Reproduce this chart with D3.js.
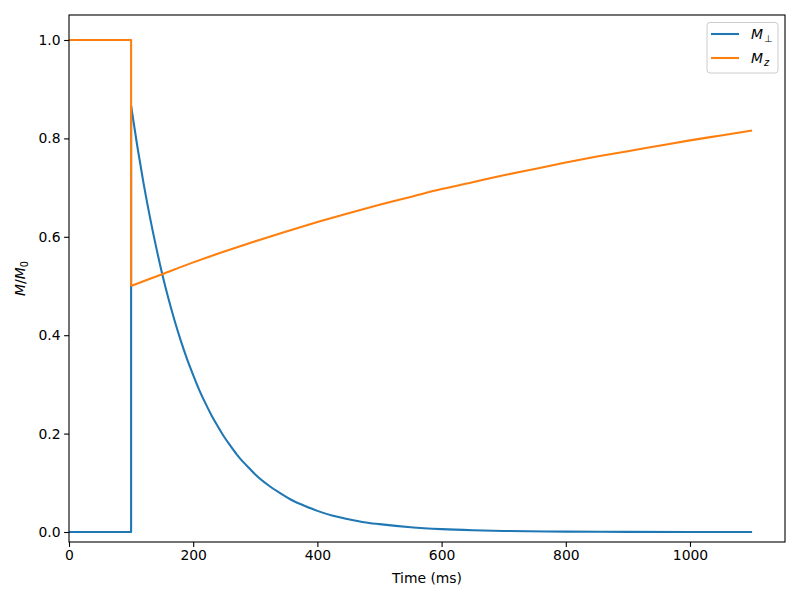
<!DOCTYPE html>
<html><head><meta charset="utf-8">
<script src="https://cdn.jsdelivr.net/npm/d3@7"></script>
<style>body{margin:0;background:#fff}svg text{font-family:"DejaVu Sans",sans-serif}</style>
</head><body><svg id="c" width="800" height="600"></svg>
<script>
const perpTime = [0,100,100,110,120,130,140,150,160,170,180,190,200,210,220,230,240,250,260,270,280,290,300,320,340,360,380,400,425,450,475,500,550,600,650,700,800,900,1000,1100];
const perpVals = [0,0,0.866,0.784,0.709,0.642,0.581,0.525,0.475,0.430,0.389,0.352,0.319,0.288,0.261,0.236,0.214,0.193,0.175,0.158,0.143,0.130,0.117,0.096,0.079,0.064,0.053,0.043,0.033,0.026,0.020,0.016,0.0096,0.0058,0.0035,0.0021,0.0008,0.0003,0.0001,0.0000];
const zTime = [0,100,100,150,200,250,300,350,400,450,500,550,600,650,700,750,800,850,900,950,1000,1050,1100];
const zVals = [1,1,0.5,0.524,0.548,0.570,0.591,0.611,0.630,0.648,0.665,0.681,0.697,0.711,0.725,0.738,0.751,0.763,0.774,0.785,0.796,0.806,0.816];
const xTicks = [0,200,400,600,800,1000];
const yTicks = [0.0,0.2,0.4,0.6,0.8,1.0];

const L=69,T=15,R=785,B=542;
const svg=d3.select("#c");
const x=d3.scaleLinear().domain([0,1153]).range([L,R]);
const y=d3.scaleLinear().domain([-0.0203,1.0508]).range([B,T]);
const fs=13.9;

const lin=d3.line().x(d=>x(d[0])).y(d=>y(d[1]));
const smooth=d3.line().x(d=>x(d[0])).y(d=>y(d[1])).curve(d3.curveMonotoneX);
const g=svg.append("g");
function drawSeries(ts,vs,color){
  const pts=ts.map((t,i)=>[t,vs[i]]);
  const j=2; // index of the point right after the pulse
  [[lin,pts.slice(0,j+1)],[smooth,pts.slice(j)]].forEach(([gen,d])=>{
    g.append("path").datum(d).attr("d",gen).attr("fill","none").attr("stroke",color)
     .attr("stroke-width",2.08).attr("stroke-linejoin","round");
  });
}
drawSeries(perpTime,perpVals,"#1f77b4");
drawSeries(zTime,zVals,"#ff7f0e");

const xa=svg.append("g").attr("transform",`translate(0,${B})`)
 .call(d3.axisBottom(x).tickValues(xTicks).tickFormat(d3.format("d")).tickSizeOuter(0).tickSize(4.9).tickPadding(3.5));
const ya=svg.append("g").attr("transform",`translate(${L},0)`)
 .call(d3.axisLeft(y).tickValues(yTicks).tickFormat(d3.format(".1f")).tickSizeOuter(0).tickSize(4.9).tickPadding(3.5));
[xa,ya].forEach(a=>{a.select(".domain").remove();a.selectAll("text").attr("font-size",fs).attr("fill","#000").attr("font-family","DejaVu Sans");a.selectAll("line").attr("stroke","#000").attr("stroke-width",1.1);});

svg.append("rect").attr("x",L).attr("y",T).attr("width",R-L).attr("height",B-T)
 .attr("fill","none").attr("stroke","#000").attr("stroke-width",1.1);

svg.append("text").attr("x",(L+R)/2).attr("y",583).attr("text-anchor","middle").attr("font-size",fs).text("Time (ms)");
const yl=svg.append("text").attr("transform",`translate(25,${(T+B)/2}) rotate(-90)`).attr("text-anchor","middle").attr("font-size",fs);
yl.append("tspan").attr("font-style","italic").text("M");
yl.append("tspan").text("/");
yl.append("tspan").attr("font-style","italic").text("M");
yl.append("tspan").attr("font-size",fs*0.7).attr("dy",3).text("0");

const lg=svg.append("g");
lg.append("rect").attr("x",707).attr("y",22.5).attr("width",71).attr("height",50.5).attr("rx",3)
 .attr("fill","#fff").attr("fill-opacity",0.8).attr("stroke","#cccccc").attr("stroke-width",1);
const items=[{c:"#1f77b4",s:"⊥",y:34,si:false},{c:"#ff7f0e",s:"z",y:58,si:true}];
items.forEach(it=>{
 lg.append("line").attr("x1",711).attr("x2",739).attr("y1",it.y).attr("y2",it.y).attr("stroke",it.c).attr("stroke-width",2.08);
 const t=lg.append("text").attr("x",751).attr("y",it.y+5).attr("font-size",fs);
 t.append("tspan").attr("font-style","italic").text("M");
 t.append("tspan").attr("font-size",fs*0.7).attr("dy",3).attr("dx",1).attr("font-style",it.si?"italic":"normal").text(it.s);
});
</script></body></html>
